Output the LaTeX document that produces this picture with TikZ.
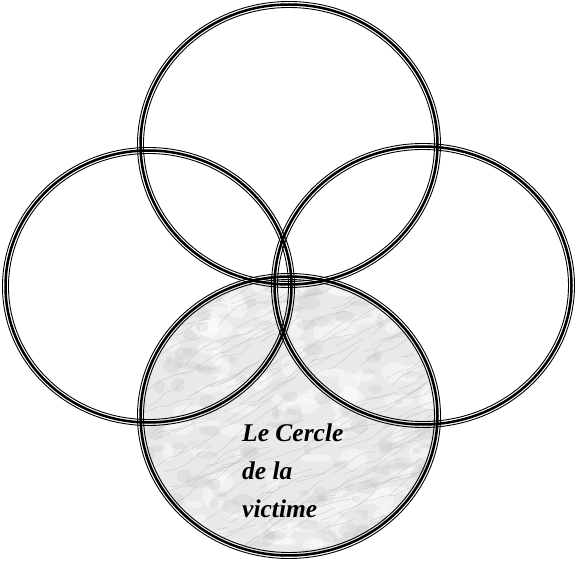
\documentclass[tikz,border=0pt]{standalone}
\usepackage{fontspec}
\setmainfont{Liberation Serif}
\tikzset{
  ringthin/.style={draw=black, line width=0.9pt},
  ringthick/.style={draw=black, line width=2.5pt},
  veinline/.style={draw=gray!60, line width=0.55pt, opacity=0.45, line cap=round, line join=round},
  blotch/.style={fill=gray!45, opacity=0.28},
  whiteblotch/.style={fill=white, opacity=0.45},
  labeltext/.style={anchor=base west, inner sep=0pt, font=\fontsize{25.5}{30}\selectfont\bfseries\itshape}
}
\newcommand\myring[4]{%
  \draw[ringthick] (#1,#2) ellipse [x radius=#3pt, y radius=#4pt];
  \draw[ringthin] (#1,#2) ellipse [x radius=#3pt+3pt, y radius=#4pt+3pt];
  \draw[ringthin] (#1,#2) ellipse [x radius=#3pt-3pt, y radius=#4pt-3pt];
}
\begin{document}
\begin{tikzpicture}[x=1pt,y=-1pt]
\useasboundingbox (0,0) rectangle (576,561);
% marble fill of the bottom circle
\begin{scope}
  \clip (289,416) ellipse [x radius=149pt, y radius=140pt];
  \fill[gray!17] (130,270) rectangle (450,561);
  \pgfmathsetseed{17}
  \foreach \i in {1,...,140}{
    \pgfmathsetmacro\px{135+310*rnd}
    \pgfmathsetmacro\py{270+290*rnd}
    \pgfmathsetmacro\rx{5+12*rnd}
    \pgfmathsetmacro\ry{3+8*rnd}
    \fill[whiteblotch] (\px,\py) ellipse [x radius=\rx pt, y radius=\ry pt];
  }
  \foreach \i in {1,...,160}{
    \pgfmathsetmacro\px{135+310*rnd}
    \pgfmathsetmacro\py{270+290*rnd}
    \pgfmathsetmacro\rx{3+9*rnd}
    \pgfmathsetmacro\ry{2+6*rnd}
    \fill[blotch] (\px,\py) ellipse [x radius=\rx pt, y radius=\ry pt];
  }
  \foreach \i in {1,...,200}{
    \pgfmathsetmacro\px{135+310*rnd}
    \pgfmathsetmacro\py{270+290*rnd}
    \pgfmathsetmacro\dx{9+6*rnd}
    \draw[veinline] (\px,\py) -- ++({\dx},{-6+5*rand}) -- ++({\dx},{-6+5*rand}) -- ++({\dx},{-6+5*rand}) -- ++({\dx},{-6+5*rand});
  }
\end{scope}
% rings
\myring{289}{144.5}{148.5}{140}
\myring{148.5}{286.5}{143}{136}
\myring{423}{285.5}{148.5}{139}
\myring{289}{416}{148.5}{139.5}
% text
\node[labeltext] (l1) at (242,442) {Le Cercle};
\node[labeltext] (l2) at (242,479) {de la};
\node[labeltext] (l3) at (242,517) {victime};
\end{tikzpicture}
\end{document}
